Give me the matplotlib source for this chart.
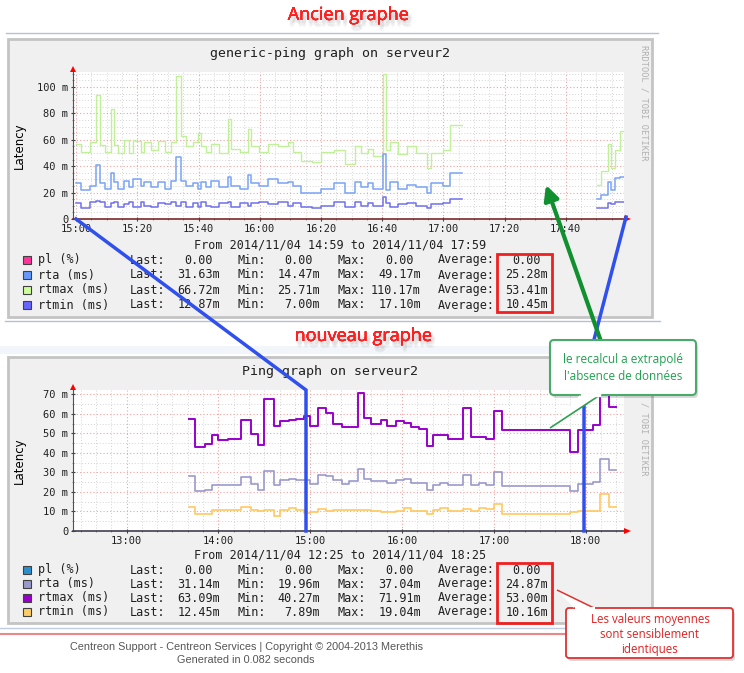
import numpy as np
import matplotlib.pyplot as plt
from matplotlib.patches import Rectangle, FancyBboxPatch, Polygon, FancyArrowPatch
import matplotlib.patheffects as pe

W, H = 744, 673
MONO = 'DejaVu Sans Mono'
nan = np.nan

# ---- old graph: minutes after 15:00 (step starts)
old_t = [0, 1.6, 4.4, 6.5, 7.8, 9.3, 11.4, 12.5, 13.6, 15.8,
         17.4, 18.5, 19.1, 21.2, 22.3, 24.5, 26.7, 28.9, 31, 32.7,
         34.3, 35.9, 38.1, 39.8, 40.8, 42.5, 44.1, 46.8, 49.6, 50.7,
         53.4, 56.1, 57.2, 59.9, 62.6, 65.9, 69.2, 70.8, 73.5, 77,
         80, 84.4, 87.7, 91, 93.1, 95.3, 97.1, 100.3, 101.4, 102.5,
         105.2, 108, 111.2, 114.5, 116.1, 120, 122.1, 126, 170.3, 171.6,
         173.8, 174.9, 176, 177.6, 179]
old_rtmax = [57, 51, 58, 94, 56, 51, 83, 56, 50, 60,
             50, 60, 59, 51, 58, 52, 59, 51, 58, 108,
             63, 55, 58, 65, 55, 51, 57, 50, 76, 53,
             51, 68, 55, 51, 57, 55, 58, 51, 44, 43,
             51, 52, 42, 55, 50, 53, 48, 110, 52, 58,
             49, 55, 50, 39, 50, 52, 71, nan, 26, 36,
             57, 39, 52, 67, 67]
old_rta = [27, 22, 25, 41, 27, 23, 35, 28, 23, 29,
           24, 30, 30, 25, 28, 24, 28, 23, 29, 47,
           29, 25, 27, 23, 28, 24, 29, 24, 32, 25,
           23, 33, 27, 25, 30, 27, 28, 25, 20, 20,
           23, 27, 20, 28, 24, 27, 23, 49, 22, 28,
           23, 26, 24, 20, 27, 25, 35, nan, 15, 18,
           28, 22, 31, 32, 32]
old_rtmin = [12, 8, 13, 14, 13, 9, 12, 13, 9, 11,
             13, 9, 9, 13, 10, 9, 12, 11, 13, 10,
             13, 9, 12, 9, 13, 10, 9, 12, 13, 9,
             12, 10, 12, 13, 11, 13, 10, 12, 9, 8,
             10, 13, 9, 13, 10, 12, 10, 17, 12, 9,
             11, 12, 10, 8, 11, 12, 15, nan, 8, 8,
             12, 11, 13, 13, 13]
old_xticks = ['15:00', '15:20', '15:40', '16:00', '16:20', '16:40', '17:00', '17:20', '17:40']

# ---- new graph: minutes since midnight (step starts)
new_t = [821, 825, 831, 836, 840, 846, 855, 861, 866, 870,
         876, 880, 886, 891, 896, 900, 905, 910, 915, 921,
         925, 931, 935, 940, 946, 950, 956, 961, 966, 971,
         976, 980, 985, 990, 1000, 1005, 1010, 1015, 1020, 1025,
         1070, 1075, 1085, 1089, 1095, 1100]
new_rtmax = [57.6, 43.1, 44.8, 49, 46.4, 47, 56.8, 49.5, 44, 67.4,
             53.7, 56.3, 56.8, 57.6, 59, 53.7, 63, 60.5, 55, 53,
             53, 70.5, 58, 55, 57, 54, 56.5, 55.5, 53, 52,
             43.5, 49, 49, 47, 62.8, 48, 48.3, 47, 61.6, 51.7,
             40.7, 51.7, 54.3, 71, 63.4, 63.4]
new_rta = [28, 20.3, 20.8, 23.7, 23.7, 23.3, 27.4, 24, 21.1, 30.9,
           23.3, 26.2, 26.7, 26.2, 26.2, 24.1, 28.8, 28, 25.9, 24.1,
           25.4, 31.9, 26.7, 25.5, 25.5, 24.4, 26.2, 26.7, 24.6, 24.6,
           20.8, 23.8, 24.4, 23.3, 28.8, 23.3, 24.6, 23.8, 30.2, 22.8,
           20.3, 24.1, 25.1, 37, 31.4, 31.4]
new_rtmin = [12.3, 8.5, 8.5, 10.6, 10.6, 10.6, 12.3, 10.6, 10.1, 10.8,
             7.9, 11, 11.6, 10.6, 9.1, 9.7, 11.1, 10.4, 11, 11,
             10.8, 10.8, 11, 10.2, 9.7, 9.7, 10.2, 11.8, 10.4, 10.4,
             8.9, 11, 11.8, 10.2, 11.4, 10, 11.6, 11.4, 13.8, 8.9,
             9.7, 10.4, 10.4, 19, 12.3, 12.3]
new_xticks = ['13:00', '14:00', '15:00', '16:00', '17:00', '18:00']

# ---- legends
leg_names = ['pl (%)', 'rta (ms)', 'rtmax (ms)', 'rtmin (ms)']
old_colors = ['#ff3399', '#6699ff', '#ccff99', '#6666ff']
old_last = ['0.00', '31.63m', '66.72m', '12.87m']
old_min = ['0.00', '14.47m', '25.71m', '7.00m']
old_max = ['0.00', '49.17m', '110.17m', '17.10m']
old_avg = ['0.00', '25.28m', '53.41m', '10.45m']
new_colors = ['#2a8fd0', '#9999cc', '#9900cc', '#ffcc66']
new_last = ['0.00', '31.14m', '63.09m', '12.45m']
new_min = ['0.00', '19.96m', '40.27m', '7.89m']
new_max = ['0.00', '37.04m', '71.91m', '19.04m']
new_avg = ['0.00', '24.87m', '53.00m', '10.16m']

fig = plt.figure(figsize=(W / 100, H / 100), dpi=100)
fig.patch.set_facecolor('white')


def px_axes(left, top, right, bottom, z):
    return fig.add_axes([left / W, 1 - bottom / H, (right - left) / W, (bottom - top) / H], zorder=z)


bg = px_axes(0, 0, W, H, 0)
bg.set_xlim(0, W)
bg.set_ylim(H, 0)
bg.axis('off')

ov = px_axes(0, 0, W, H, 3)
ov.set_xlim(0, W)
ov.set_ylim(H, 0)
ov.axis('off')
ov.patch.set_alpha(0)

# page decorations
shadow = [pe.withSimplePatchShadow(offset=o, shadow_rgbFace='#555555', alpha=0.07)
          for o in [(1, -2), (2, -3), (3, -4), (1, -4), (3, -2), (2, -5)]] + [pe.Normal()]
bg.text(348, 15, 'Ancien graphe', color='#ff2020', fontsize=13, family='Open Sans',
        ha='center', va='center', path_effects=shadow)
bg.text(363, 336, 'nouveau graphe', color='#ff2020', fontsize=13, family='Open Sans',
        ha='center', va='center', path_effects=shadow)
bg.plot([6, 658], [33, 33], color='#b8bfd0', lw=1)
bg.plot([5, 660], [321, 321], color='#b8bfd0', lw=1)
bg.add_patch(Rectangle((0, 346), 660, 8, color='#f2f5fa', lw=0))
bg.plot([0, 660], [628, 628], color='#c0cce0', lw=1)
bg.plot([0, 660], [634, 634], color='#e88888', lw=1.5)
bg.text(246, 647, 'Centreon Support - Centreon Services | Copyright \u00a9 2004-2013 Merethis',
        family='Liberation Sans', fontsize=7.8, color='#555555', ha='center', va='center')
bg.text(246, 660, 'Generated in 0.082 seconds', family='Liberation Sans',
        fontsize=7.8, color='#555555', ha='center', va='center')


def graph_frame(top, bottom, title, period, rows_y, colors, last, mn, mx, avg, credit, credit_y, credit_va):
    bg.add_patch(Rectangle((8, top), 644, bottom - top, fc='#f0f0f0', ec='#c4c4c4', lw=2))
    bg.text(330, top + 14, title, family=MONO, fontsize=9.5, ha='center', va='center', color='#202020')
    # vertical credit (the part hidden under the callout is left out)
    bg.text(644, credit_y, credit, family=MONO, fontsize=6.2, color='#b0b0b0',
            rotation=270, ha='center', va=credit_va)
    bg.text(340, rows_y[0] - 11, period, family=MONO, fontsize=8.5, ha='center', va='baseline',
            color='#202020')
    for i, y in enumerate(rows_y):
        bg.add_patch(Rectangle((23, y - 4), 8, 8, fc=colors[i], ec='#404040', lw=0.8))
        yb = y + 3.5
        bg.text(38, yb, leg_names[i], family=MONO, fontsize=8.5, va='baseline', color='#202020')
        for lab, lx, val, vx in [('Last:', 130, last[i], 220), ('Min:', 237, mn[i], 320),
                                 ('Max:', 338, mx[i], 421), ('Average:', 438, avg[i], 548)]:
            bg.text(lx, yb, lab, family=MONO, fontsize=8.5, va='baseline', color='#202020')
            off = 0 if val.endswith('m') else 7
            bg.text(vx - off, yb, val, family=MONO, fontsize=8.5, va='baseline', ha='right',
                    color='#202020')


graph_frame(39, 317, 'generic-ping graph on serveur2', 'From 2014/11/04 14:59 to 2014/11/04 17:59',
            [260, 275, 290, 305], old_colors, old_last, old_min, old_max, old_avg,
            'RRDTOOL / TOBI OETIKER', 45, 'top')
graph_frame(357, 623, 'Ping graph on serveur2', 'From 2014/11/04 12:25 to 2014/11/04 18:25',
            [570, 584, 598, 612], new_colors, new_last, new_min, new_max, new_avg,
            '/ TOBI OETIKER', 476, 'bottom')


def style_axes(ax, spine_col):
    ax.set_facecolor('white')
    for s in ['top', 'right']:
        ax.spines[s].set_visible(False)
    ax.spines['left'].set_color('#505050')
    ax.spines['bottom'].set_color(spine_col)
    ax.spines['bottom'].set_linewidth(1.2)
    ax.grid(which='minor', color='#d4d4d4', ls=(0, (1, 2)), lw=0.7)
    ax.grid(which='major', color='#f4a0a0', ls=(0, (1, 2)), lw=0.8)
    ax.set_axisbelow(True)
    ax.tick_params(which='major', length=3, direction='inout', width=0.8, colors='#404040', pad=2,
                   labelsize=7.5, labelcolor='#202020')
    ax.tick_params(which='minor', length=2, direction='inout', width=0.6, colors='#808080')
    for lab in ax.get_xticklabels() + ax.get_yticklabels():
        lab.set_family(MONO)


# ---- upper (old) graph
ax1 = px_axes(73, 72, 624, 219, 1)
ax1.plot(old_t, old_rtmax, drawstyle='steps-post', color='#c2f09a', lw=1)
ax1.plot(old_t, old_rta, drawstyle='steps-post', color='#7aa3f5', lw=1.1)
ax1.plot(old_t, old_rtmin, drawstyle='steps-post', color='#7070ee', lw=1.1)
ax1.set_xlim(-1, 179)
ax1.set_ylim(0, 111.4)
ax1.set_xticks(np.arange(0, 180, 20))
ax1.set_xticklabels(old_xticks)
ax1.set_xticks(np.arange(0, 180, 5), minor=True)
ax1.set_yticks(np.arange(0, 101, 20))
ax1.set_yticklabels(['0', '20 m', '40 m', '60 m', '80 m', '100 m'])
ax1.set_yticks(np.arange(0, 111, 5), minor=True)
style_axes(ax1, '#7a2a2a')
ax1.set_ylabel('Latency', fontsize=8.5)
ax1.yaxis.set_label_coords(-0.085, 0.5)

# ---- lower (new) graph
ax2 = px_axes(73, 390, 624, 531, 1)
ax2.plot(new_t, new_rtmax, drawstyle='steps-post', color='#9900cc', lw=1.4)
ax2.plot(new_t, new_rta, drawstyle='steps-post', color='#9999cc', lw=1.2)
ax2.plot(new_t, new_rtmin, drawstyle='steps-post', color='#ffc860', lw=1.2)
ax2.set_xlim(745, 1105)
ax2.set_ylim(0, 72.2)
ax2.set_xticks(np.arange(780, 1100, 60))
ax2.set_xticklabels(new_xticks)
ax2.set_xticks(np.arange(750, 1105, 10), minor=True)
ax2.set_yticks(np.arange(0, 71, 10))
ax2.set_yticklabels(['0', '10 m', '20 m', '30 m', '40 m', '50 m', '60 m', '70 m'])
ax2.set_yticks(np.arange(0, 72, 5), minor=True)
style_axes(ax2, '#404050')
ax2.set_ylabel('Latency', fontsize=8.5)
ax2.yaxis.set_label_coords(-0.085, 0.5)

# red axis arrows
for yb, yt in [(219, 72), (531, 390)]:
    ov.add_patch(Polygon([(70, yt), (76, yt), (73, yt - 6)], color='#ff0000', lw=0, zorder=2))
    ov.add_patch(Polygon([(624, yb - 3), (624, yb + 3), (631, yb)], color='#ff0000', lw=0, zorder=2))

# ---- annotations
ov.plot([76, 306, 306], [219, 390, 531], color='#3050ee', lw=2.5, solid_joinstyle='miter', zorder=3)
ov.plot([626, 584, 584], [217, 378, 531], color='#3050ee', lw=2.5, solid_joinstyle='miter', zorder=3)
ov.add_patch(Rectangle((497, 254), 55, 58, fill=False, ec='#ee2020', lw=2, zorder=3))
ov.add_patch(Rectangle((497, 563), 55, 60, fill=False, ec='#ee2020', lw=2, zorder=3))

ov.add_patch(FancyArrowPatch((604, 350), (546, 185), arrowstyle='-|>', mutation_scale=22,
                             color='#10902e', lw=3, shrinkA=0, shrinkB=0, zorder=4))

# green callout
ov.add_patch(FancyBboxPatch((552, 343), 146, 55, boxstyle='round,pad=0,rounding_size=4',
                            fc='#000000', alpha=0.15, lw=0, zorder=5))
ov.add_patch(FancyBboxPatch((550, 340), 146, 55, boxstyle='round,pad=0,rounding_size=4',
                            fc='white', ec='#4aaa6a', lw=1.5, zorder=6))
ov.add_patch(Polygon([(580, 395), (600, 395), (550, 428)], closed=False, fc='white', ec='#30a050',
                     lw=1.2, zorder=7))
ov.plot([581.5, 598.5], [395, 395], color='white', lw=2.5, zorder=8)
ov.text(623, 359, 'le recalcul a extrapol\u00e9', family='Open Sans', fontsize=8.5, color='#20a050',
        ha='center', va='center', zorder=9)
ov.text(623, 376, "l'absence de donn\u00e9es", family='Open Sans', fontsize=8.5, color='#20a050',
        ha='center', va='center', zorder=9)

# red callout
ov.add_patch(FancyBboxPatch((568, 611), 167, 50, boxstyle='round,pad=0,rounding_size=3',
                            fc='#000000', alpha=0.15, lw=0, zorder=5))
ov.add_patch(FancyBboxPatch((566, 608), 167, 50, boxstyle='round,pad=0,rounding_size=3',
                            fc='white', ec='#e03030', lw=1.3, zorder=6))
ov.add_patch(Polygon([(574, 608), (594, 608), (557, 590)], closed=False, fc='white', ec='#e03030',
                     lw=1.1, zorder=7))
ov.plot([575.5, 592.5], [608, 608], color='white', lw=2.2, zorder=8)
for yy, txt in zip([620, 635, 650], ['Les valeurs moyennes', 'sont sensiblement', 'identiques']):
    ov.text(650, yy, txt, family='Open Sans', fontsize=8.3, color='#e02020', ha='center', va='center',
            zorder=9)

fig.savefig('out.png', dpi=100)
